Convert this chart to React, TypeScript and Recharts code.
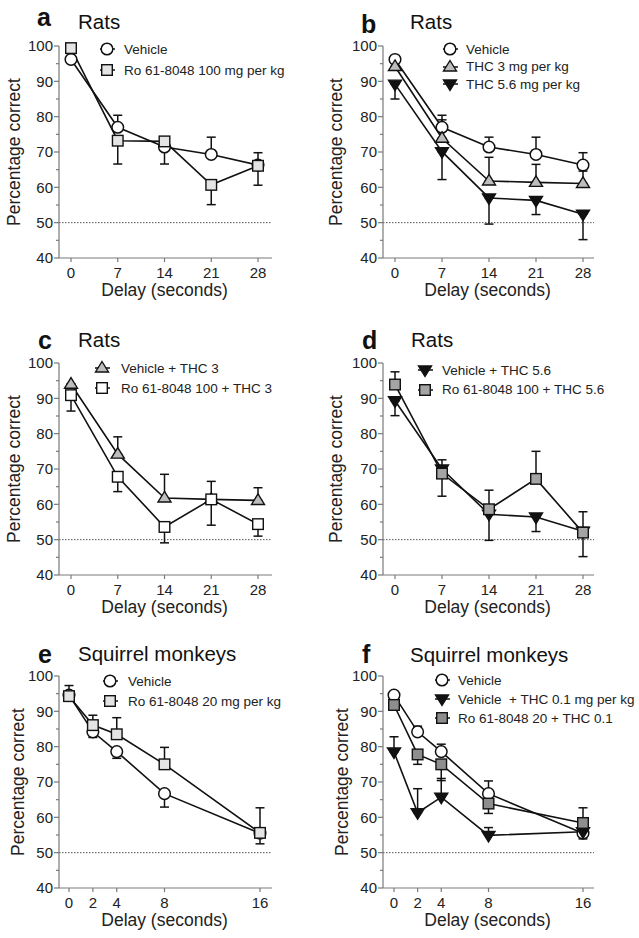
import React from 'react'
import { LineChart, Line, XAxis, YAxis, ErrorBar, ReferenceLine, Legend } from 'recharts'

const FONT = '"Liberation Sans", Arial, Helvetica, sans-serif'
const INK = '#111'
const AXIS = '#7a7a7a'
const TEXT = '#222'

// delays on the x axis
const ratDelays = [0, 7, 14, 21, 28]
const monkeyDelays = [0, 2, 4, 8, 16]
const yTicks = [40, 45, 50, 55, 60, 65, 70, 75, 80, 85, 90, 95, 100]

// error bars are [below, above] in percent
// panel a
const aVehicle = [96.2, 77.0, 71.4, 69.3, 66.3]
const aVehicleErr = [[0, 0], [0, 3.4], [0, 0], [0, 4.9], [0, 3.5]]
const aRo100 = [99.4, 73.2, 73.0, 60.7, 66.1]
const aRo100Err = [[0, 0], [6.6, 0], [6.4, 0], [5.6, 0], [5.5, 0]]

// panel b
const bVehicle = [96.2, 77.0, 71.4, 69.3, 66.3]
const bVehicleErr = [[0, 0], [0, 3.4], [0, 2.8], [0, 4.9], [0, 3.5]]
const bThc3 = [94.2, 73.9, 61.8, 61.4, 61.1]
const bThc3Err = [[0, 0], [0, 5.2], [0, 6.7], [0, 5.1], [0, 3.5]]
const bThc56 = [89.2, 70.1, 57.0, 56.3, 52.4]
const bThc56Err = [[4.2, 0], [7.9, 0], [7.4, 0], [4.0, 0], [7.2, 0]]

// panel c
const cVehThc3 = [94.0, 74.2, 61.8, 61.4, 61.1]
const cVehThc3Err = [[0, 0], [0, 4.9], [0, 6.7], [0, 5.1], [0, 3.6]]
const cRoThc3 = [90.9, 67.8, 53.6, 61.4, 54.4]
const cRoThc3Err = [[4.5, 0], [4.2, 0], [4.5, 0], [7.3, 0], [3.4, 0]]

// panel d
const dVehThc56 = [89.3, 70.0, 57.2, 56.4, 52.4]
const dVehThc56Err = [[4.2, 0], [7.7, 0], [7.4, 0], [4.1, 0], [7.2, 0]]
const dRoThc56 = [93.9, 68.7, 58.6, 67.2, 52.0]
const dRoThc56Err = [[0, 3.6], [0, 3.9], [0, 5.4], [0, 7.8], [0, 5.9]]

// panel e
const eVehicle = [94.6, 84.2, 78.6, 66.7, 55.5]
const eVehicleErr = [[0, 0], [1.6, 0], [1.9, 0], [3.8, 0], [3.0, 0]]
const eRo20 = [94.3, 86.1, 83.5, 75.0, 55.6]
const eRo20Err = [[0, 3.0], [0, 2.8], [0, 4.7], [0, 4.8], [0, 7.1]]

// panel f
const fVehicle = [94.6, 84.2, 78.6, 66.7, 55.5]
const fVehicleErr = [[0, 0], [0, 1.6], [0, 2.1], [0, 3.6], [1.6, 0]]
const fVehThc01 = [78.5, 61.3, 65.7, 54.9, 55.9]
const fVehThc01Err = [[0, 4.3], [0, 6.8], [0, 5.3], [0, 2.2], [0, 0]]
const fRoThc01 = [91.8, 77.8, 75.0, 63.9, 58.4]
const fRoThc01Err = [[0, 0], [2.8, 0], [4.6, 0], [2.8, 0], [0, 4.3]]

type Shape = 'circle' | 'square' | 'up' | 'down'

interface Series {
  key: string
  name: string
  values: number[]
  err: number[][]
  shape: Shape
  fill: string
}

interface Panel {
  id: string
  letter: string
  title: string
  xs: number[]
  series: Series[]
  left: number
  top: number
  height: number
  yAxisWidth: number
  plotWidth: number
  plotTop: number
  padL: number
  padR: number
  yLabelX: number
  letterPos: [number, number]
  titlePos: [number, number]
  legend: { x: number; y: number; row: number; gap: number }
}

const buildRows = (xs: number[], series: Series[]) =>
  xs.map((x, i) => {
    const row: Record<string, any> = { x }
    series.forEach((s) => {
      row[s.key] = s.values[i]
      row[s.key + 'Err'] = s.err[i]
    })
    return row
  })

const MarkerShape = ({ shape, fill, cx, cy }: { shape: Shape; fill: string; cx: number; cy: number }) => {
  if (shape === 'circle') {
    return <circle cx={cx} cy={cy} r={5.8} fill={fill} stroke={INK} strokeWidth={1.5} />
  }
  if (shape === 'square') {
    return <rect x={cx - 5.3} y={cy - 5.3} width={10.6} height={10.6} fill={fill} stroke={INK} strokeWidth={1.4} />
  }
  if (shape === 'up') {
    return (
      <path
        d={`M${cx},${cy - 6.5} L${cx + 6.5},${cy + 4} L${cx - 6.5},${cy + 4} Z`}
        fill={fill}
        stroke={INK}
        strokeWidth={1.4}
        strokeLinejoin="miter"
      />
    )
  }
  return (
    <path
      d={`M${cx - 6.5},${cy - 4} L${cx + 6.5},${cy - 4} L${cx},${cy + 6.5} Z`}
      fill={fill}
      stroke={INK}
      strokeWidth={1.4}
    />
  )
}

const XTick = (props: any) => {
  const { x, y, payload } = props
  return (
    <g>
      <line x1={x} x2={x} y1={y} y2={y + 4} stroke={AXIS} strokeWidth={1.2} />
      <text x={x} y={y + 20} textAnchor="middle" fontSize={15} fill={TEXT} fontFamily={FONT}>
        {payload.value}
      </text>
    </g>
  )
}

const YTick = (props: any) => {
  const { x, y, payload } = props
  const major = payload.value % 10 === 0
  return (
    <g>
      <line x1={x - (major ? 5 : 3)} x2={x} y1={y} y2={y} stroke={AXIS} strokeWidth={1.2} />
      {major && (
        <text x={x - 6} y={y + 5.3} textAnchor="end" fontSize={15} fill={TEXT} fontFamily={FONT}>
          {payload.value}
        </text>
      )}
    </g>
  )
}

const LegendBox = ({ items, row, gap }: { items: Series[]; row: number; gap: number }) => (
  <div style={{ fontFamily: FONT, fontSize: 13.5, color: TEXT }}>
    {items.map((s) => (
      <div key={s.key} style={{ display: 'flex', alignItems: 'center', height: row }}>
        <svg width={22} height={14} style={{ overflow: 'visible' }}>
          <line x1={3} x2={18} y1={7} y2={7} stroke={INK} strokeWidth={1.5} />
          <MarkerShape shape={s.shape} fill={s.fill} cx={10} cy={7} />
        </svg>
        <span style={{ marginLeft: gap, whiteSpace: 'pre' }}>{s.name}</span>
      </div>
    ))}
  </div>
)

const WHITE = '#ffffff'
const LIGHT = '#e4e4e4'
const MID = '#bdbdbd'
const DARK = '#a4a4a4'
const DARKER = '#8e8e8e'

const panels: Panel[] = [
  {
    id: 'a', letter: 'a', title: 'Rats', xs: ratDelays,
    series: [
      { key: 'veh', name: 'Vehicle', values: aVehicle, err: aVehicleErr, shape: 'circle', fill: WHITE },
      { key: 'ro', name: 'Ro 61-8048 100 mg per kg', values: aRo100, err: aRo100Err, shape: 'square', fill: LIGHT },
    ],
    left: 0, top: 0, height: 310, yAxisWidth: 59, plotWidth: 213, plotTop: 46, padL: 12, padR: 14,
    yLabelX: 20, letterPos: [37, 26], titlePos: [78, 29],
    legend: { x: 107, y: 49, row: 21, gap: 5 },
  },
  {
    id: 'b', letter: 'b', title: 'Rats', xs: ratDelays,
    series: [
      { key: 'veh', name: 'Vehicle', values: bVehicle, err: bVehicleErr, shape: 'circle', fill: WHITE },
      { key: 'thc3', name: 'THC 3 mg per kg', values: bThc3, err: bThc3Err, shape: 'up', fill: MID },
      { key: 'thc56', name: 'THC 5.6 mg per kg', values: bThc56, err: bThc56Err, shape: 'down', fill: INK },
    ],
    left: 320, top: 0, height: 310, yAxisWidth: 63, plotWidth: 211, plotTop: 46, padL: 12, padR: 11,
    yLabelX: 22, letterPos: [41, 33], titlePos: [90, 29],
    legend: { x: 130, y: 49, row: 17.5, gap: 4 },
  },
  {
    id: 'c', letter: 'c', title: 'Rats', xs: ratDelays,
    series: [
      { key: 'vthc', name: 'Vehicle + THC 3', values: cVehThc3, err: cVehThc3Err, shape: 'up', fill: MID },
      { key: 'rthc', name: 'Ro 61-8048 100 + THC 3', values: cRoThc3, err: cRoThc3Err, shape: 'square', fill: WHITE },
    ],
    left: 0, top: 310, height: 310, yAxisWidth: 59, plotWidth: 213, plotTop: 53, padL: 12, padR: 14,
    yLabelX: 20, letterPos: [38, 39], titlePos: [78, 37],
    legend: { x: 102, y: 58, row: 20, gap: 7 },
  },
  {
    id: 'd', letter: 'd', title: 'Rats', xs: ratDelays,
    series: [
      { key: 'vthc', name: 'Vehicle + THC 5.6', values: dVehThc56, err: dVehThc56Err, shape: 'down', fill: INK },
      { key: 'rthc', name: 'Ro 61-8048 100 + THC 5.6', values: dRoThc56, err: dRoThc56Err, shape: 'square', fill: DARK },
    ],
    left: 320, top: 310, height: 310, yAxisWidth: 63, plotWidth: 211, plotTop: 53, padL: 12, padR: 11,
    yLabelX: 22, letterPos: [42, 39], titlePos: [91, 37],
    legend: { x: 105, y: 60, row: 19.5, gap: 5 },
  },
  {
    id: 'e', letter: 'e', title: 'Squirrel monkeys', xs: monkeyDelays,
    series: [
      { key: 'veh', name: 'Vehicle', values: eVehicle, err: eVehicleErr, shape: 'circle', fill: WHITE },
      { key: 'ro', name: 'Ro 61-8048 20 mg per kg', values: eRo20, err: eRo20Err, shape: 'square', fill: LIGHT },
    ],
    left: 0, top: 620, height: 318, yAxisWidth: 59, plotWidth: 213, plotTop: 56, padL: 10, padR: 12,
    yLabelX: 24, letterPos: [38, 43], titlePos: [78, 41],
    legend: { x: 110, y: 61, row: 20, gap: 6 },
  },
  {
    id: 'f', letter: 'f', title: 'Squirrel monkeys', xs: monkeyDelays,
    series: [
      { key: 'veh', name: 'Vehicle', values: fVehicle, err: fVehicleErr, shape: 'circle', fill: WHITE },
      { key: 'vthc', name: 'Vehicle  + THC 0.1 mg per kg', values: fVehThc01, err: fVehThc01Err, shape: 'down', fill: INK },
      { key: 'rthc', name: 'Ro 61-8048 20 + THC 0.1', values: fRoThc01, err: fRoThc01Err, shape: 'square', fill: DARKER },
    ],
    left: 320, top: 620, height: 318, yAxisWidth: 63, plotWidth: 211, plotTop: 56, padL: 11, padR: 11,
    yLabelX: 28, letterPos: [42, 43], titlePos: [90, 42],
    legend: { x: 122, y: 60, row: 19, gap: 4 },
  },
]

const PLOT_H = 212
const CHART_W = 320

const PanelChart = ({ p }: { p: Panel }) => {
  const rows = buildRows(p.xs, p.series)
  const xAxisHeight = p.height - p.plotTop - PLOT_H
  const xMax = p.xs[p.xs.length - 1]
  const axisY = p.plotTop + PLOT_H
  const xCenter = p.yAxisWidth + p.plotWidth / 2 - 1
  const yCenter = p.plotTop + PLOT_H / 2

  return (
    <div style={{ position: 'absolute', left: p.left, top: p.top, width: CHART_W, height: p.height }}>
      <LineChart
        width={CHART_W}
        height={p.height}
        data={rows}
        margin={{ top: p.plotTop, right: CHART_W - p.yAxisWidth - p.plotWidth, bottom: 0, left: 0 }}
      >
        <XAxis
          type="number"
          dataKey="x"
          domain={[0, xMax]}
          ticks={p.xs}
          interval={0}
          padding={{ left: p.padL, right: p.padR }}
          height={xAxisHeight}
          tickSize={0}
          tickMargin={0}
          tickLine={false}
          axisLine={{ stroke: AXIS, strokeWidth: 1.2 }}
          tick={<XTick />}
          label={() => (
            <text x={xCenter} y={axisY + 38} textAnchor="middle" fontSize={17.5} fill={TEXT} fontFamily={FONT}>
              Delay (seconds)
            </text>
          )}
        />
        <YAxis
          type="number"
          domain={[40, 100]}
          ticks={yTicks}
          interval={0}
          width={p.yAxisWidth}
          tickSize={0}
          tickMargin={0}
          tickLine={false}
          axisLine={{ stroke: AXIS, strokeWidth: 1.2 }}
          tick={<YTick />}
          label={() => (
            <text
              transform={`translate(${p.yLabelX},${yCenter}) rotate(-90)`}
              textAnchor="middle"
              fontSize={17.5}
              fill={TEXT}
              fontFamily={FONT}
            >
              Percentage correct
            </text>
          )}
        />
        <ReferenceLine y={50} stroke="#555" strokeWidth={1} strokeDasharray="1.5 1.5" />
        {p.series.map((s) => (
          <Line
            key={s.key}
            type="linear"
            dataKey={s.key}
            name={s.name}
            stroke={INK}
            strokeWidth={1.6}
            isAnimationActive={false}
            activeDot={false}
            dot={(d: any) => (
              <MarkerShape key={`${s.key}-${d.index}`} shape={s.shape} fill={s.fill} cx={d.cx} cy={d.cy} />
            )}
          >
            <ErrorBar
              dataKey={s.key + 'Err'}
              direction="y"
              width={4.5}
              stroke={INK}
              strokeWidth={1.5}
              isAnimationActive={false}
            />
          </Line>
        ))}
        <Legend
          layout="horizontal"
          verticalAlign="middle"
          align="center"
          wrapperStyle={{ left: p.legend.x - 10, top: p.legend.y - p.legend.row / 2, width: 'auto' }}
          content={() => <LegendBox items={p.series} row={p.legend.row} gap={p.legend.gap} />}
        />
      </LineChart>
      <svg
        width={CHART_W}
        height={60}
        style={{ position: 'absolute', left: 0, top: 0, pointerEvents: 'none', overflow: 'visible' }}
      >
        <text x={p.letterPos[0]} y={p.letterPos[1]} fontSize={25} fontWeight="bold" fill={INK} fontFamily={FONT}>
          {p.letter}
        </text>
        <text x={p.titlePos[0]} y={p.titlePos[1]} fontSize={20.5} fill={INK} fontFamily={FONT}>
          {p.title}
        </text>
      </svg>
    </div>
  )
}

export default function App() {
  return (
    <div
      style={{
        position: 'absolute',
        left: 0,
        top: 0,
        width: 639,
        height: 938,
        background: '#fff',
        fontFamily: FONT,
        overflow: 'hidden',
      }}
    >
      {panels.map((p) => (
        <PanelChart key={p.id} p={p} />
      ))}
    </div>
  )
}
